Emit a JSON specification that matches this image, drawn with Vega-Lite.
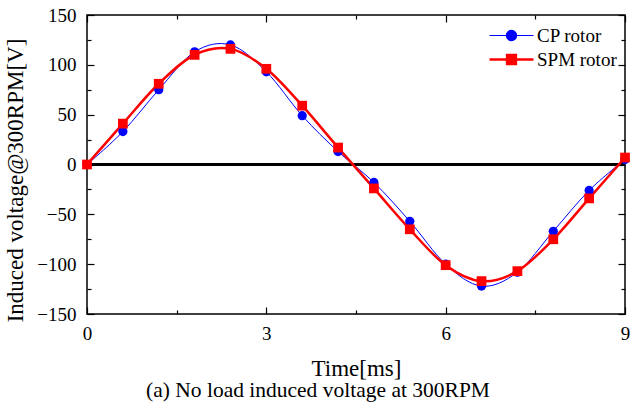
{
  "$schema": "https://vega.github.io/schema/vega-lite/v6.json",
  "width": 538,
  "height": 299,
  "autosize": "none",
  "padding": {"left": 87, "top": 15, "right": 5, "bottom": 90},
  "background": "white",
  "config": {
    "font": "Liberation Serif",
    "view": {"stroke": "black", "strokeWidth": 1.5},
    "axis": {"grid": false, "domain": false, "tickColor": "black", "tickWidth": 1.2, "labelColor": "black", "titleColor": "black", "labelFont": "Liberation Serif", "titleFont": "Liberation Serif", "labelFontSize": 19, "titleFontSize": 23, "titleFontWeight": "normal"}
  },
  "title": {"text": "(a) No load induced voltage at 300RPM", "orient": "bottom", "anchor": "middle", "fontSize": 21.5, "font": "Liberation Serif", "fontWeight": "normal", "color": "black", "offset": 0, "dx": -38},
  "data": {"values": [
    {"t": 0, "v": 0, "s": "CP rotor"},
    {"t": 0.6, "v": 33, "s": "CP rotor"},
    {"t": 1.2, "v": 75, "s": "CP rotor"},
    {"t": 1.8, "v": 113, "s": "CP rotor"},
    {"t": 2.4, "v": 120, "s": "CP rotor"},
    {"t": 3.0, "v": 93, "s": "CP rotor"},
    {"t": 3.6, "v": 49, "s": "CP rotor"},
    {"t": 4.2, "v": 13, "s": "CP rotor"},
    {"t": 4.8, "v": -18, "s": "CP rotor"},
    {"t": 5.4, "v": -57, "s": "CP rotor"},
    {"t": 6.0, "v": -100, "s": "CP rotor"},
    {"t": 6.6, "v": -122, "s": "CP rotor"},
    {"t": 7.2, "v": -108, "s": "CP rotor"},
    {"t": 7.8, "v": -67, "s": "CP rotor"},
    {"t": 8.4, "v": -26, "s": "CP rotor"},
    {"t": 9.0, "v": 5, "s": "CP rotor"},
    {"t": 0, "v": 0, "s": "SPM rotor"},
    {"t": 0.6, "v": 41, "s": "SPM rotor"},
    {"t": 1.2, "v": 81, "s": "SPM rotor"},
    {"t": 1.8, "v": 110, "s": "SPM rotor"},
    {"t": 2.4, "v": 116, "s": "SPM rotor"},
    {"t": 3.0, "v": 96, "s": "SPM rotor"},
    {"t": 3.6, "v": 59, "s": "SPM rotor"},
    {"t": 4.2, "v": 17, "s": "SPM rotor"},
    {"t": 4.8, "v": -24, "s": "SPM rotor"},
    {"t": 5.4, "v": -65, "s": "SPM rotor"},
    {"t": 6.0, "v": -101, "s": "SPM rotor"},
    {"t": 6.6, "v": -117, "s": "SPM rotor"},
    {"t": 7.2, "v": -107, "s": "SPM rotor"},
    {"t": 7.8, "v": -75, "s": "SPM rotor"},
    {"t": 8.4, "v": -34, "s": "SPM rotor"},
    {"t": 9.0, "v": 7, "s": "SPM rotor"}
  ]},
  "resolve": {"axis": {"x": "independent", "y": "independent"}},
  "layer": [
    {
      "mark": {"type": "rule", "color": "black", "strokeWidth": 1.5},
      "encoding": {"y": {"datum": 0, "type": "quantitative", "scale": {"domain": [-150, 150]}, "axis": null}}
    },
    {
      "mark": {"type": "line", "interpolate": "cardinal", "clip": true},
      "encoding": {
        "x": {"field": "t", "type": "quantitative", "scale": {"domain": [0, 9], "nice": false, "zero": false},
          "axis": {"orient": "bottom", "values": [0, 1.5, 3, 4.5, 6, 7.5, 9], "title": "Time[ms]", "titlePadding": 14, "labelPadding": 17, "labelExpr": "datum.value % 3 === 0 ? datum.label : ''", "tickSize": {"condition": {"test": "datum.value % 3 === 0", "value": -7}, "value": -4}, "labelFlush": false}},
        "y": {"field": "v", "type": "quantitative", "scale": {"domain": [-150, 150], "nice": false},
          "axis": {"orient": "left", "values": [-150, -125, -100, -75, -50, -25, 0, 25, 50, 75, 100, 125, 150], "title": "Induced voltage@300RPM[V]", "titlePadding": 9, "titleY": 165, "labelPadding": 18, "labelExpr": "datum.value % 50 === 0 ? datum.label : ''", "tickSize": {"condition": {"test": "datum.value % 50 === 0", "value": -7}, "value": -4}}},
        "stroke": {"field": "s", "type": "nominal", "scale": {"domain": ["CP rotor", "SPM rotor"], "range": ["#0000FF", "#FF0000"]},
          "legend": {"orient": "none", "legendX": 400, "legendY": 11, "title": null, "symbolType": "stroke", "symbolSize": 1936, "labelFontSize": 19, "labelFont": "Liberation Serif", "labelColor": "black", "rowPadding": 4, "labelOffset": 16, "symbolOffset": 15,
            "encode": {"symbols": {"update": {
              "shape": {"signal": "datum.value === 'CP rotor' ? 'M-1,0L1,0M0.23,0A0.23,0.23,0,1,1,-0.23,0A0.23,0.23,0,1,1,0.23,0Z' : 'M-1,0L1,0M-0.2,-0.2L0.2,-0.2L0.2,0.2L-0.2,0.2Z'"},
              "fill": {"signal": "datum.value === 'CP rotor' ? '#0000FF' : '#FF0000'"},
              "stroke": {"signal": "datum.value === 'CP rotor' ? '#0000FF' : '#FF0000'"},
              "strokeOpacity": {"value": 1},
              "strokeWidth": {"signal": "datum.value === 'CP rotor' ? 1.2 : 2.5"}
            }}}}},
        "strokeWidth": {"field": "s", "type": "nominal", "scale": {"domain": ["SPM rotor", "CP rotor"], "range": [2.5, 1]}, "legend": null}
      }
    },
    {
      "mark": {"type": "point", "filled": true, "opacity": 1},
      "encoding": {
        "x": {"field": "t", "type": "quantitative", "scale": {"domain": [0, 9], "nice": false, "zero": false},
          "axis": {"orient": "top", "values": [0, 1.5, 3, 4.5, 6, 7.5, 9], "title": null, "labels": false, "tickSize": {"condition": {"test": "datum.value % 3 === 0", "value": -7}, "value": -4}}},
        "y": {"field": "v", "type": "quantitative", "scale": {"domain": [-150, 150], "nice": false},
          "axis": {"orient": "right", "values": [-150, -125, -100, -75, -50, -25, 0, 25, 50, 75, 100, 125, 150], "title": null, "labels": false, "tickSize": {"condition": {"test": "datum.value % 50 === 0", "value": -7}, "value": -4}}},
        "fill": {"field": "s", "type": "nominal", "scale": {"domain": ["SPM rotor", "CP rotor"], "range": ["#FF0000", "#0000FF"]}, "legend": null},
        "shape": {"field": "s", "type": "nominal", "scale": {"domain": ["SPM rotor", "CP rotor"], "range": ["square", "circle"]}, "legend": null},
        "size": {"field": "s", "type": "nominal", "scale": {"domain": ["SPM rotor", "CP rotor"], "range": [95, 85]}, "legend": null}
      }
    }
  ]
}
